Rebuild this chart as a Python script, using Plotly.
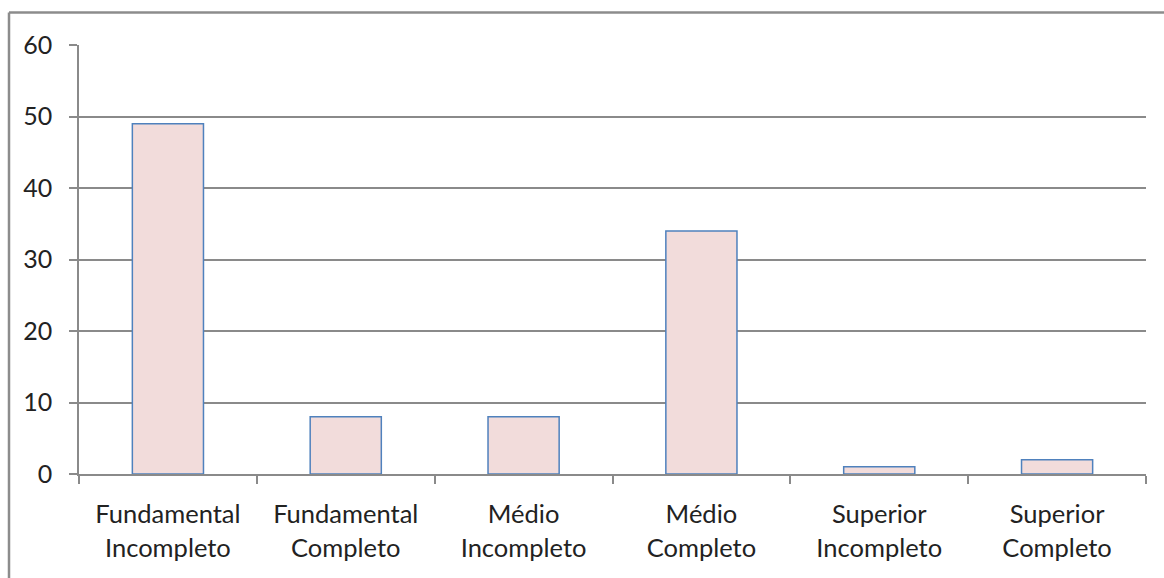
import plotly.graph_objects as go

# Escolaridade: categorias e contagens
categorias = [
    "Fundamental<br>Incompleto",
    "Fundamental<br>Completo",
    "Médio<br>Incompleto",
    "Médio<br>Completo",
    "Superior<br>Incompleto",
    "Superior<br>Completo",
]
valores = [49, 8, 8, 34, 1, 2]
y_ticks = [0, 10, 20, 30, 40, 50, 60]

W, H = 1164, 578
L, R, T, B = 79, 18, 45, 104
plot_w = W - L - R
plot_h = H - T - B

FONT = "Lato, 'Open Sans', sans-serif"
GRID = "#8a8a8a"

fig = go.Figure(
    go.Bar(
        x=categorias,
        y=valores,
        marker=dict(color="#F2DCDB", line=dict(color="#4F81BD", width=1.5)),
        width=0.4,
    )
)


def px_x(px):
    return (px - L) / plot_w


def px_y(py):
    return (H - B - py) / plot_h


# Moldura externa (apenas borda superior e esquerda visíveis)
fig.add_shape(type="line", xref="paper", yref="paper",
              x0=px_x(9), x1=px_x(1170), y0=px_y(12.5), y1=px_y(12.5),
              line=dict(color="#8c8c8c", width=2.5))
fig.add_shape(type="line", xref="paper", yref="paper",
              x0=px_x(9), x1=px_x(9), y0=px_y(12.5), y1=px_y(590),
              line=dict(color="#8c8c8c", width=2.5))

fig.update_layout(
    width=W,
    height=H,
    margin=dict(l=L, r=R, t=T, b=B, pad=0),
    paper_bgcolor="white",
    plot_bgcolor="white",
    showlegend=False,
    font=dict(family=FONT, size=25, color="#222222"),
    xaxis=dict(
        type="category",
        showline=True,
        linecolor=GRID,
        linewidth=1.5,
        ticks="outside",
        tickson="boundaries",
        ticklen=8,
        tickcolor=GRID,
        tickwidth=1.5,
        showgrid=False,
        tickfont=dict(size=25.5),
        ticklabelstandoff=17,
    ),
    yaxis=dict(
        range=[0, 60],
        tickvals=y_ticks,
        showline=True,
        linecolor=GRID,
        linewidth=1.5,
        ticks="outside",
        ticklen=8,
        tickcolor=GRID,
        tickwidth=1.5,
        showgrid=True,
        gridcolor=GRID,
        gridwidth=1.5,
        zeroline=False,
        tickfont=dict(size=25),
        ticklabelstandoff=12,
    ),
)

fig.write_html("out.html")
